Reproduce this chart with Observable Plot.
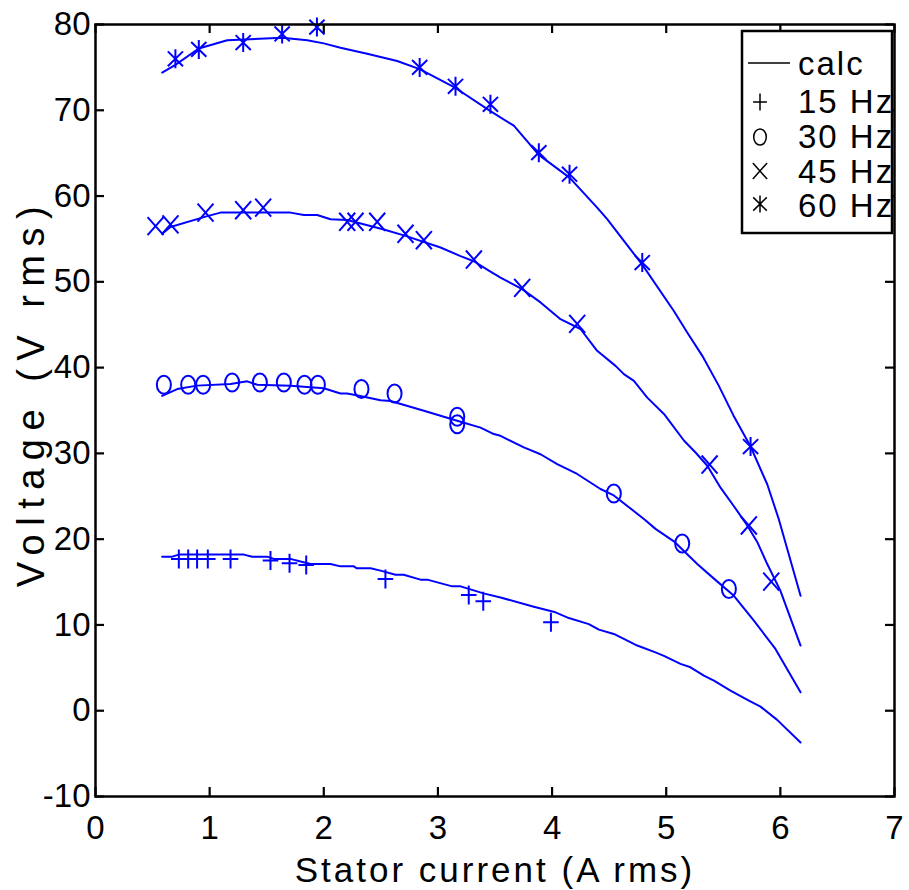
<!DOCTYPE html>
<html><head><meta charset="utf-8">
<script src="https://cdn.jsdelivr.net/npm/d3@7"></script>
<script src="https://cdn.jsdelivr.net/npm/@observablehq/plot@0.6"></script>
<style>
body{margin:0;background:#fff;}
#wrap{position:relative;width:909px;height:890px;}
#legend{position:absolute;left:0;top:0;pointer-events:none;}
</style></head><body><div id="wrap"></div>
<script>
const xTicks = [0,1,2,3,4,5,6,7];
const yTicks = [-10,0,10,20,30,40,50,60,70,80];
const xTitle = "Stator current (A rms)";
const yTitle = "Voltage (V rms)";
const legendLabels = ["calc","15 Hz","30 Hz","45 Hz","60 Hz"];

const calc15 = [[0.584,17.96],[0.672,17.96],[0.73,18.2],[1.3,18.2],[1.373,17.96],[1.504,17.96],[1.562,17.7],[1.708,17.7],[1.796,17.4],[1.884,17.1],[2.059,17.1],[2.146,16.83],[2.263,16.83],[2.29,16.6],[2.41,16.6],[2.497,16.33],[2.628,15.86],[2.7,15.86],[2.847,15.28],[2.906,15.28],[3.125,14.5],[3.198,14.5],[3.4,13.68],[3.548,13.2],[3.84,12.13],[4.03,11.47],[4.147,10.8],[4.322,10.1],[4.41,9.45],[4.541,8.95],[4.629,8.37],[4.746,7.6],[4.906,6.8],[4.98,6.4],[5.125,5.46],[5.213,5.06],[5.33,4.1],[5.418,3.5],[5.563,2.35],[5.724,1.18],[5.826,0.48],[5.972,-1.07],[6.177,-3.7]];
const meas15 = [[0.73,17.7],[0.812,17.7],[0.89,17.7],[0.984,17.7],[1.183,17.7],[1.533,17.5],[1.7,17.2],[1.846,17.0],[2.54,15.36],[3.27,13.5],[3.397,12.75],[3.99,10.3]];

const calc30 = [[0.584,36.7],[0.716,37.5],[0.89,37.9],[1.183,38.1],[1.329,38.4],[1.417,38.0],[1.708,37.88],[2.0,37.6],[2.146,36.98],[2.205,36.98],[2.32,36.7],[2.497,36.2],[2.585,36.1],[2.877,34.97],[3.169,33.8],[3.373,33.0],[3.49,32.25],[3.548,32.05],[3.753,30.7],[3.899,29.9],[4.045,28.76],[4.22,27.6],[4.424,25.85],[4.541,25.1],[4.81,22.3],[4.906,21.2],[5.067,19.75],[5.272,17.1],[5.418,15.4],[5.593,13.4],[5.768,10.5],[5.957,7.2],[6.177,2.15]];
const meas30 = [[0.599,38.0],[0.812,38.0],[0.943,38.0],[1.197,38.27],[1.44,38.27],[1.65,38.27],[1.831,38.0],[1.948,38.0],[2.33,37.5],[2.62,36.98],[3.169,34.27],[3.169,33.4],[4.541,25.33],[5.14,19.5],[5.549,14.2]];

const calc45 = [[0.584,55.6],[0.657,56.4],[0.964,57.6],[1.095,58.07],[1.708,58.07],[1.825,57.8],[1.942,57.8],[2.059,57.3],[2.205,57.2],[2.526,56.1],[2.716,55.36],[3.023,54.0],[3.198,53.0],[3.315,52.4],[3.446,51.3],[3.548,50.5],[3.738,49.15],[3.899,47.6],[4.074,45.65],[4.249,44.5],[4.395,41.96],[4.556,40.2],[4.629,39.24],[4.717,38.46],[4.834,36.5],[4.98,34.6],[5.155,31.5],[5.257,30.1],[5.36,28.56],[5.476,26.0],[5.59,23.9],[5.71,21.6],[5.8,19.6],[5.885,17.1],[6.0,14.0],[6.177,7.6]];
const meas45 = [[0.526,56.5],[0.657,56.7],[0.964,58.07],[1.294,58.35],[1.469,58.65],[2.205,57.0],[2.278,57.0],[2.468,57.0],[2.716,55.6],[2.877,54.85],[3.315,52.6],[3.738,49.3],[4.22,45.1],[5.38,28.7],[5.724,21.6],[5.92,15.05]];

const calc60 = [[0.584,74.4],[0.70,75.3],[0.905,77.2],[1.154,78.16],[1.635,78.46],[1.855,78.16],[2.0,77.8],[2.146,77.3],[2.38,76.6],[2.643,75.75],[2.84,74.8],[3.154,72.6],[3.46,69.9],[3.665,68.2],[3.884,64.8],[4.153,62.15],[4.395,58.65],[4.483,57.3],[4.79,52.0],[5.067,46.6],[5.184,44.1],[5.315,41.4],[5.46,37.9],[5.59,34.4],[5.739,30.8],[5.885,26.4],[5.987,22.3],[6.177,13.4]];
const meas60 = [[0.70,76.0],[0.905,77.1],[1.294,77.9],[1.635,78.9],[1.94,79.7],[2.84,75.0],[3.154,72.8],[3.46,70.7],[3.884,65.06],[4.153,62.55],[4.79,52.25],[5.739,30.8]];

function sym(f){ return { draw(ctx, size){ const r = Math.sqrt(size / Math.PI); f(ctx, r); } }; }
const plusSym = sym((c,r)=>{ const hx=r*0.82, hy=r; c.moveTo(-hx,0); c.lineTo(hx,0); c.moveTo(0,-hy); c.lineTo(0,hy); });
const circleSym = sym((c,r)=>{ const rx=r*0.74, ry=r*0.95, k=0.5523;
  c.moveTo(rx,0); c.bezierCurveTo(rx,ry*k,rx*k,ry,0,ry); c.bezierCurveTo(-rx*k,ry,-rx,ry*k,-rx,0);
  c.bezierCurveTo(-rx,-ry*k,-rx*k,-ry,0,-ry); c.bezierCurveTo(rx*k,-ry,rx,-ry*k,rx,0); c.closePath(); });
const timesSym = sym((c,r)=>{ const hx=r*0.84, hy=r*0.95; c.moveTo(-hx,-hy); c.lineTo(hx,hy); c.moveTo(-hx,hy); c.lineTo(hx,-hy); });
const asteriskSym = sym((c,r)=>{ const hx=r*0.8, hy=r, dy=r*0.78; c.moveTo(0,-hy); c.lineTo(0,hy); c.moveTo(-hx,-dy); c.lineTo(hx,dy); c.moveTo(-hx,dy); c.lineTo(hx,-dy); });

const blue = "#0000ff";
const lineOpts = {x: d=>d[0], y: d=>d[1], stroke: blue, strokeWidth: 2};
const dotOpts = s => ({x: d=>d[0], y: d=>d[1], symbol: s, r: 9.5, stroke: blue, strokeWidth: 2, fill: "none"});

const W = 909, H = 890, ML = 95, MR = 15, MT = 24, MB = 94, TICK = 9;
const frameW = W - ML - MR, frameH = H - MT - MB;

const plot = Plot.plot({
  width: W, height: H,
  marginLeft: ML, marginRight: MR, marginTop: MT, marginBottom: MB,
  x: {domain: [0,7]},
  y: {domain: [-10,80]},
  style: {fontFamily: '"Liberation Sans", Arial, sans-serif', fontSize: "33px", background: "white", color: "black", overflow: "visible"},
  marks: [
    Plot.line(calc15, lineOpts),
    Plot.line(calc30, lineOpts),
    Plot.line(calc45, lineOpts),
    Plot.line(calc60, lineOpts),
    Plot.dot(meas15, dotOpts(plusSym)),
    Plot.dot(meas30, dotOpts(circleSym)),
    Plot.dot(meas45, dotOpts(timesSym)),
    Plot.dot(meas60, dotOpts(asteriskSym)),
    // inward ticks on all four sides
    Plot.tickX(xTicks, {x: d => d, insetTop: frameH - TICK, stroke: "black", strokeWidth: 2.2}),
    Plot.tickX(xTicks, {x: d => d, insetBottom: frameH - TICK, stroke: "black", strokeWidth: 2.2}),
    Plot.tickY(yTicks, {y: d => d, insetRight: frameW - TICK, stroke: "black", strokeWidth: 2.2}),
    Plot.tickY(yTicks, {y: d => d, insetLeft: frameW - TICK, stroke: "black", strokeWidth: 2.2}),
    Plot.axisX(xTicks, {anchor: "bottom", tickSize: 0, tickPadding: 19, label: null, tickFormat: d => String(d)}),
    Plot.axisY(yTicks, {anchor: "left", tickSize: 0, tickPadding: 5, label: null, tickFormat: d => String(d)}),
    Plot.frame({stroke: "black", strokeWidth: 2.5}),
    Plot.text([xTitle], {frameAnchor: "bottom", dy: 74, text: d => d, fontSize: 35, lineAnchor: "middle", textAnchor: "middle"}),
    Plot.text([yTitle], {frameAnchor: "left", rotate: -90, dx: -64, dy: -18, text: d => d, fontSize: 38, lineAnchor: "middle", textAnchor: "middle"})
  ]
});
document.getElementById("wrap").appendChild(plot);

d3.select(plot).selectAll("text").each(function(){
  const t = this.textContent;
  if (t === xTitle) this.style.letterSpacing = "3px";
  if (t === yTitle) this.style.letterSpacing = "8.5px";
});

// legend overlay
const L = d3.select("#wrap").append("svg").attr("id","legend").attr("width",W).attr("height",H);
L.append("defs").append("clipPath").attr("id","lgclip").append("rect").attr("x",0).attr("y",0).attr("width",893).attr("height",H);
L.append("rect").attr("x",742).attr("y",31).attr("width",150).attr("height",202)
  .attr("fill","white").attr("stroke","black").attr("stroke-width",2.5);
L.append("line").attr("x1",748).attr("x2",790).attr("y1",63).attr("y2",63).attr("stroke","black").attr("stroke-width",1.5);
const legSyms = [plusSym, circleSym, timesSym, asteriskSym];
const legY = [102, 137, 171, 204];
legSyms.forEach((s,i)=>{
  L.append("path").attr("transform",`translate(760,${legY[i]})`)
   .attr("d", d3.symbol().type(s).size(Math.PI*8.5*8.5)())
   .attr("fill","none").attr("stroke","black").attr("stroke-width",1.5);
});
const textBase = [75, 113, 148, 183, 217];
const gT = L.append("g").attr("clip-path","url(#lgclip)");
legendLabels.forEach((lab,i)=>{
  gT.append("text").attr("x",798).attr("y",textBase[i]).text(lab)
    .attr("font-family",'"Liberation Sans", Arial, sans-serif').attr("font-size",33)
    .style("letter-spacing","2px").attr("fill","black");
});
</script></body></html>
